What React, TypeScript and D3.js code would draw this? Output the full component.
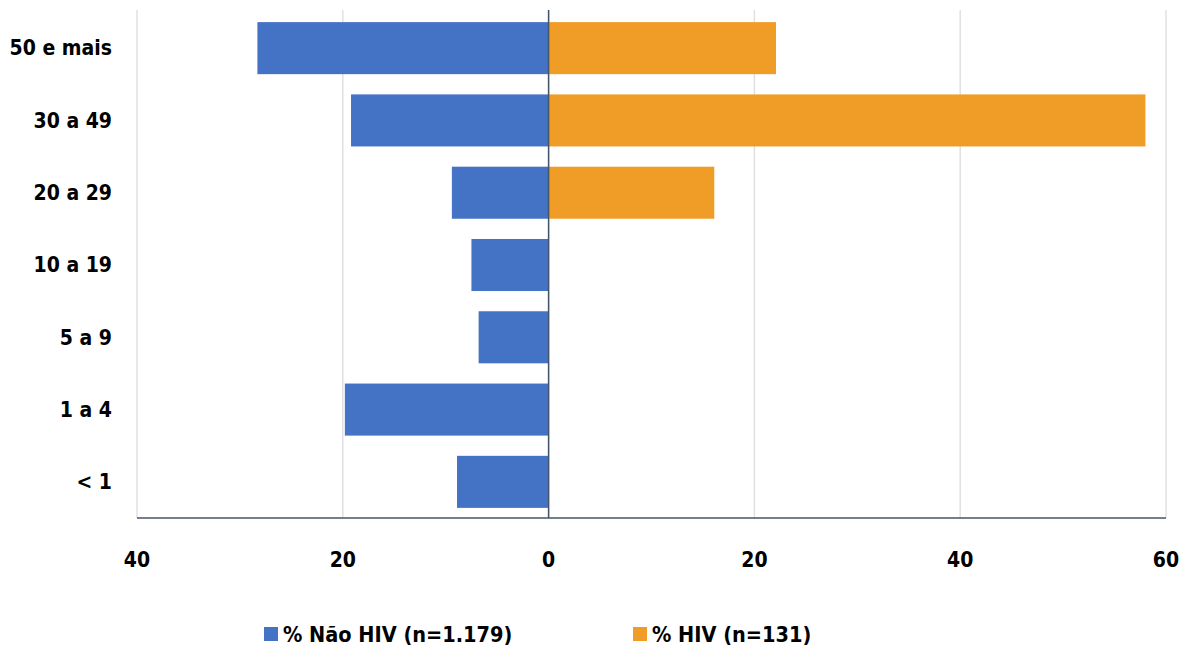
import React from "react";
import * as d3 from "d3";

const categories = ["50 e mais", "30 a 49", "20 a 29", "10 a 19", "5 a 9", "1 a 4", "< 1"];
const naoHiv = [28.3, 19.2, 9.4, 7.5, 6.8, 19.8, 8.9];
const hiv = [22.1, 58.0, 16.1, 0, 0, 0, 0];
const ticks = [-40, -20, 0, 20, 40, 60];
const seriesNames = ["% Não HIV (n=1.179)", "% HIV (n=131)"];

const W = 1184, H = 646;
const FONT = "'Liberation Sans Narrow', 'DejaVu Sans Condensed', 'Arial Narrow', sans-serif";

export default function App() {
  const x = d3.scaleLinear().domain([-40, 60]).range([137, 1166]);
  const y = d3.scaleBand().domain(categories).range([12, 518]).paddingInner(0.28).paddingOuter(0.14);

  return (
    <svg width={W} height={H} style={{ position: "absolute", left: 0, top: 0, fontFamily: FONT }}>
      <rect width={W} height={H} fill="#fff" />
      {ticks.map(t => (
        <line key={"g" + t} x1={x(t)} x2={x(t)} y1={10} y2={518} stroke="#e0e0e0" strokeWidth={1.5} />
      ))}
      {categories.map((c, i) => (
        <g key={c}>
          <rect x={x(-naoHiv[i])} y={y(c)} width={x(0) - x(-naoHiv[i])} height={y.bandwidth()} fill="#4472C4" />
          {hiv[i] > 0 && (
            <rect x={x(0)} y={y(c)} width={x(hiv[i]) - x(0)} height={y.bandwidth()} fill="#F09D28" />
          )}
          <text x={112} y={y(c)! + y.bandwidth() / 2} dy="0.35em" textAnchor="end" fontSize={21} fontWeight="bold" fill="#000">{c}</text>
        </g>
      ))}
      <line x1={x(0)} x2={x(0)} y1={10} y2={518} stroke="#44546A" strokeWidth={1.5} />
      <line x1={137} x2={1166} y1={518} y2={518} stroke="#44546A" strokeWidth={1.5} />
      {ticks.map(t => (
        <text key={"t" + t} x={x(t)} y={560} dy="0.35em" textAnchor="middle" fontSize={21} fontWeight="bold" fill="#000">{Math.abs(t)}</text>
      ))}
      <g>
        <rect x={264} y={627} width={14} height={14} fill="#4472C4" />
        <text x={283} y={634} dy="0.35em" fontSize={21.5} fontWeight="bold">{seriesNames[0]}</text>
        <rect x={633} y={627} width={14} height={14} fill="#F09D28" />
        <text x={652} y={634} dy="0.35em" fontSize={21.5} fontWeight="bold">{seriesNames[1]}</text>
      </g>
    </svg>
  );
}
